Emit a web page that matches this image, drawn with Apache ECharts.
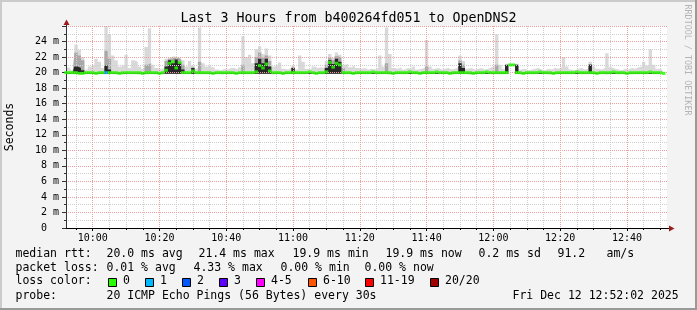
<!DOCTYPE html>
<html><head><meta charset="utf-8">
<script src="https://cdn.jsdelivr.net/npm/echarts@6/dist/echarts.min.js"></script>
<style>html,body{margin:0;padding:0;background:#f3f3f3;}#c{width:697px;height:310px;}</style>
</head><body><div id="c"></div>
<script>
// ---- data ----
const startHour = 9, startMinute = 52, spanMinutes = 180;
const tickLabels = ['10:00','10:20','10:40','11:00','11:20','11:40','12:00','12:20','12:40'];
const titleText = 'Last 3 Hours from b400264fd051 to OpenDNS2';

// median RTT per minute (ms)
const median = [
 20.0,20.0,20.0,20.0,19.9,19.9,20.0,20.0,20.0,19.9,
 20.0,20.0,20.0,20.0,20.0,20.0,19.9,20.0,20.0,20.0,
 20.0,20.0,20.0,19.9,20.0,20.0,20.0,20.0,19.9,20.0,
 20.3,21.2,21.4,20.6,21.3,20.0,20.0,20.0,20.2,20.0,
 20.0,20.0,20.0,20.0,19.9,20.0,20.0,20.0,20.0,20.0,
 20.0,19.9,20.0,20.0,20.0,20.0,20.0,20.1,20.9,20.6,
 21.1,20.2,20.0,20.0,20.0,19.9,20.0,20.0,20.0,20.0,
 20.0,20.0,20.0,20.1,20.0,19.9,20.0,20.0,20.1,21.3,
 20.7,21.2,21.0,20.0,20.0,20.0,19.9,20.0,20.0,20.0,
 20.0,20.0,20.1,20.0,20.0,20.0,20.0,20.0,19.9,20.0,
 20.0,20.0,20.0,20.1,20.0,20.0,19.9,20.0,20.0,20.0,
 20.0,20.1,20.0,20.0,20.0,19.9,20.0,20.0,20.0,20.0,
 20.0,20.0,19.9,20.0,20.0,20.0,20.1,20.0,20.0,20.0,
 20.0,20.0,20.0,21.0,21.0,20.0,20.0,19.9,20.0,20.0,
 20.0,20.0,20.1,20.0,20.0,20.0,19.9,20.0,20.0,20.0,
 20.0,20.0,20.0,20.1,20.0,20.0,20.0,20.0,20.0,19.9,
 20.0,20.0,20.0,20.0,20.1,20.0,20.0,20.0,19.9,20.0,
 20.0,20.0,20.0,20.0,20.0,20.1,20.0,20.0,20.0,19.9
];
// lost pings (of 20) per minute
const loss = [
 0,0,0,0,0,0,0,0,0,0, 0,0,1,0,0,0,0,0,0,0, 0,0,0,0,0,0,0,0,0,0,
 0,0,0,0,0,0,0,0,0,0, 0,0,0,0,0,0,0,0,0,0, 0,0,0,0,0,0,0,0,0,0,
 0,0,0,0,0,0,0,0,0,0, 0,0,0,0,0,0,0,0,0,0, 0,0,0,0,0,0,0,0,0,0,
 0,0,0,0,0,0,0,0,0,0, 0,0,0,0,0,0,0,0,0,0, 0,0,0,0,0,0,0,0,0,0,
 0,0,0,0,0,0,0,0,0,0, 0,0,0,0,0,0,0,0,0,0, 0,0,0,0,0,0,0,0,0,0,
 0,0,0,0,0,0,0,0,0,0, 0,0,0,0,0,0,0,0,0,0, 0,0,0,0,0,0,0,0,0,0
];
// smoke: lowest ping, and top of outer (light), middle and inner (dark) bands (ms)
const smokeLo = [
 19.85,19.85,19.85,19.85,19.85,19.85,19.85,19.85,19.85,19.85,
 19.85,19.85,19.85,19.85,19.85,19.85,19.85,19.85,19.85,19.85,
 19.85,19.85,19.85,19.85,19.85,19.85,19.85,19.85,19.85,19.85,
 19.85,19.85,19.85,19.85,19.85,19.85,19.85,19.85,19.85,19.85,
 19.85,19.85,19.85,19.85,19.85,19.85,19.85,19.85,19.85,19.85,
 19.85,19.85,19.85,19.85,19.85,19.85,19.85,19.85,19.85,19.85,
 19.85,19.85,19.85,19.85,19.85,19.85,19.85,19.85,19.85,19.85,
 19.85,19.85,19.85,19.85,19.85,19.85,19.85,19.85,19.85,19.85,
 19.85,19.85,19.85,19.85,19.85,19.85,19.85,19.85,19.85,19.85,
 19.85,19.85,19.85,19.85,19.85,19.85,19.85,19.85,19.85,19.85,
 19.85,19.85,19.85,19.85,19.85,19.85,19.85,19.85,19.85,19.85,
 19.85,19.85,19.85,19.85,19.85,19.85,19.85,19.85,19.85,19.85,
 19.85,19.85,19.85,19.85,19.85,19.85,19.85,19.85,19.85,19.85,
 19.85,19.85,19.85,20.9,20.9,19.85,19.85,19.85,19.85,19.85,
 19.85,19.85,19.85,19.85,19.85,19.85,19.85,19.85,19.85,19.85,
 19.85,19.85,19.85,19.85,19.85,19.85,19.85,19.85,19.85,19.85,
 19.85,19.85,19.85,19.85,19.85,19.85,19.85,19.85,19.85,19.85,
 19.85,19.85,19.85,19.85,19.85,19.85,19.85,19.85,19.85,19.85
];
const smokeHi = [
 20.6,20.7,20.3,23.6,22.9,22.0,20.4,20.8,21.0,21.8,
 21.4,20.6,26.0,24.9,22.2,21.6,20.8,21.0,22.3,20.6,
 21.6,21.4,20.8,20.5,23.3,25.7,21.0,20.6,20.4,20.6,
 21.8,22.0,22.1,21.9,22.0,21.6,20.8,21.5,20.9,20.5,
 25.8,21.2,20.8,21.0,20.7,20.4,20.3,20.5,20.4,20.6,
 20.6,20.4,20.7,24.7,22.0,22.3,21.2,23.0,23.4,22.4,
 23.1,22.2,20.8,21.0,21.3,20.5,20.4,20.6,20.9,20.4,
 22.2,21.4,20.5,20.4,20.8,20.6,20.7,20.6,21.5,22.4,
 21.9,22.6,22.3,21.0,21.1,20.7,20.9,20.6,20.5,20.6,
 20.4,20.5,20.4,20.6,22.2,20.8,25.8,22.4,20.6,20.5,
 20.7,20.4,20.6,20.5,20.8,20.4,20.5,20.6,24.2,20.8,
 20.5,20.6,20.4,20.5,20.6,20.4,20.5,20.7,22.2,21.5,
 20.5,20.6,20.4,20.5,20.6,20.4,20.5,20.7,20.8,24.9,
 21.0,20.5,21.0,21.1,21.1,21.0,20.4,20.5,20.3,20.4,
 20.5,20.6,20.4,20.3,20.5,20.4,20.6,20.5,20.7,22.0,
 20.8,20.4,20.3,20.5,20.6,20.4,20.5,21.4,20.8,20.5,
 20.4,20.6,22.5,20.7,20.5,20.4,20.3,20.5,20.4,20.6,
 20.5,20.7,20.8,21.4,20.9,23.0,21.0,20.5,20.4,20.3
];
const smokeMid = [
 20.0,20.0,20.0,22.6,22.2,21.6,20.0,20.0,20.0,20.0,
 20.0,20.0,22.8,21.8,20.0,20.0,20.0,20.0,20.0,20.0,
 20.0,20.0,20.0,20.0,21.0,21.2,20.0,20.0,20.0,20.0,
 21.5,21.8,21.9,21.9,21.7,21.0,20.0,20.0,20.7,20.0,
 21.4,20.0,20.0,20.0,20.0,20.0,20.0,20.0,20.0,20.0,
 20.0,20.0,20.0,21.0,20.0,20.0,20.0,22.0,22.6,21.9,
 22.2,21.5,20.0,20.0,20.0,20.0,20.0,20.0,20.7,20.0,
 20.0,20.0,20.0,20.0,20.0,20.0,20.0,20.0,21.0,21.9,
 21.6,22.1,21.9,20.6,20.0,20.0,20.0,20.0,20.0,20.0,
 20.0,20.0,20.0,20.0,20.0,20.0,21.2,20.0,20.0,20.0,
 20.0,20.0,20.0,20.0,20.0,20.0,20.0,20.0,20.8,20.0,
 20.0,20.0,20.0,20.0,20.0,20.0,20.0,20.0,21.6,21.0,
 20.0,20.0,20.0,20.0,20.0,20.0,20.0,20.0,20.0,21.0,
 20.0,20.0,21.0,21.05,21.05,21.0,20.0,20.0,20.0,20.0,
 20.0,20.0,20.0,20.0,20.0,20.0,20.0,20.0,20.0,20.0,
 20.0,20.0,20.0,20.0,20.0,20.0,20.0,21.1,20.0,20.0,
 20.0,20.0,20.0,20.0,20.0,20.0,20.0,20.0,20.0,20.0,
 20.0,20.0,20.0,20.0,20.0,20.0,20.0,20.0,20.0,20.0
];
const smokeDark = [
 20.0,20.0,20.0,20.8,20.6,20.3,20.0,20.0,20.0,20.0,
 20.0,20.0,20.9,20.4,20.0,20.0,20.0,20.0,20.0,20.0,
 20.0,20.0,20.0,20.0,20.0,20.0,20.0,20.0,20.0,20.0,
 20.8,21.6,21.2,21.7,21.3,20.4,20.0,20.0,20.6,20.0,
 20.0,20.0,20.0,20.0,20.0,20.0,20.0,20.0,20.0,20.0,
 20.0,20.0,20.0,20.0,20.0,20.0,20.0,21.2,21.8,21.2,
 21.8,20.8,20.0,20.0,20.0,20.0,20.0,20.0,20.6,20.0,
 20.0,20.0,20.0,20.0,20.0,20.0,20.0,20.0,20.6,21.6,
 21.1,21.8,21.4,20.0,20.0,20.0,20.0,20.0,20.0,20.0,
 20.0,20.0,20.0,20.0,20.0,20.0,20.0,20.0,20.0,20.0,
 20.0,20.0,20.0,20.0,20.0,20.0,20.0,20.0,20.0,20.0,
 20.0,20.0,20.0,20.0,20.0,20.0,20.0,20.0,21.2,20.6,
 20.0,20.0,20.0,20.0,20.0,20.0,20.0,20.0,20.0,20.0,
 20.0,20.0,21.0,21.0,21.0,21.0,20.0,20.0,20.0,20.0,
 20.0,20.0,20.0,20.0,20.0,20.0,20.0,20.0,20.0,20.0,
 20.0,20.0,20.0,20.0,20.0,20.0,20.0,21.0,20.0,20.0,
 20.0,20.0,20.0,20.0,20.0,20.0,20.0,20.0,20.0,20.0,
 20.0,20.0,20.0,20.0,20.0,20.0,20.0,20.0,20.0,20.0
];
const lossLabels = ['0','1','2','3','4-5','6-10','11-19','20/20'];
const lossColors = ['#26ff00','#00b8ff','#0059ff','#5e00ff','#ff00ff','#ff5500','#ff0000','#a10000'];
const rttStats = ['20.0 ms avg','21.4 ms max','19.9 ms min','19.9 ms now','0.2 ms sd','91.2','am/s'];
const lossStats = ['0.01 % avg','4.33 % max','0.00 % min','0.00 % now'];
const probeText = '20 ICMP Echo Pings (56 Bytes) every 30s';
const dateText = 'Fri Dec 12 12:52:02 2025';

// ---- build ----
const pad = n => (n < 10 ? '0' : '') + n;
const times = [];
for (let i = 0; i <= spanMinutes; i++) {
  const t = startHour * 60 + startMinute + i;
  times.push(pad(Math.floor(t / 60)) + ':' + pad(t % 60));
}
const isMajor = (idx, v) => tickLabels.indexOf(v) >= 0;
const isMinor = (idx, v) => (+v.slice(3)) % 5 === 0 && tickLabels.indexOf(v) < 0;
const lossLevel = n => n <= 3 ? n : n <= 5 ? 4 : n <= 10 ? 5 : n <= 19 ? 6 : 7;

const MONO = '"DejaVu Sans Mono", monospace';
function band(name, top, color, z) {
  return [
    {type:'line', name:name+'Base', data:smokeLo, stack:name, step:'middle', symbol:'none', showSymbol:false,
     lineStyle:{width:0, opacity:0}, silent:true, z:z, xAxisIndex:0},
    {type:'line', name:name, data:top.map((v,i)=>+(v - smokeLo[i]).toFixed(3)), stack:name, step:'middle',
     symbol:'none', showSymbol:false, lineStyle:{width:0, opacity:0}, areaStyle:{color:color, opacity:1}, silent:true, z:z, xAxisIndex:0}
  ];
}
const series = [].concat(
  band('smokeHi', smokeHi, '#d9d9d9', 2),
  band('smokeMid', smokeMid, '#a8a8a8', 3),
  band('smokeDark', smokeDark, '#262626', 4),
  [{type:'scatter', name:'median', data:median, symbol:'rect', symbolSize:[3.6,3], z:6, silent:true,
    itemStyle:{color: p => lossColors[lossLevel(loss[p.dataIndex])]}}]
);

function txt(t, x, y, extra) {
  return Object.assign({type:'text', x:x, y:y, z:100, silent:true,
    style:Object.assign({text:t, font:'11.5px ' + MONO, fill:'#000',
      align:'left', verticalAlign:'middle', textAlign:'left', textVerticalAlign:'middle'}, (extra && extra.style) || {})},
    extra ? {rotation: extra.rotation || 0} : {});
}
const graphics = [
  {type:'rect', shape:{x:0,y:0,width:697,height:2}, style:{fill:'#cbcbcb'}, z:100, silent:true},
  {type:'rect', shape:{x:0,y:0,width:2,height:310}, style:{fill:'#cbcbcb'}, z:100, silent:true},
  {type:'rect', shape:{x:0,y:308,width:697,height:2}, style:{fill:'#999999'}, z:100, silent:true},
  {type:'rect', shape:{x:695,y:0,width:2,height:310}, style:{fill:'#999999'}, z:100, silent:true},
  // axis arrows
  {type:'line', shape:{x1:66.5,y1:26,x2:66.5,y2:22}, style:{stroke:'#333', lineWidth:1}, z:100, silent:true},
  {type:'polygon', shape:{points:[[66.5,19.5],[63.5,25],[69.5,25]]}, style:{fill:'#9b1c1c'}, z:101, silent:true},
  {type:'line', shape:{x1:667,y1:228.5,x2:669,y2:228.5}, style:{stroke:'#000', lineWidth:1}, z:100, silent:true},
  {type:'polygon', shape:{points:[[674.5,228.5],[669,225.5],[669,231.5]]}, style:{fill:'#9b1c1c'}, z:101, silent:true},
  txt('Seconds', 10.5, 127, {rotation:Math.PI/2, style:{align:'center', textAlign:'center', font:'11.5px ' + MONO}}),
  txt('RRDTOOL / TOBI OETIKER', 687.5, 60, {rotation:-Math.PI/2, style:{align:'center', textAlign:'center', font:'8.4px ' + MONO, fill:'#b4b4b4'}}),
  txt(titleText, 348.5, 19, {style:{align:'center', textAlign:'center', font:'13.3px ' + MONO}}),
  txt('median rtt:', 15.5, 254),
  txt('packet loss:', 15.5, 268),
  txt('loss color:', 15.5, 281.5),
  txt('probe:', 15.5, 296),
  txt(probeText, 106.5, 296),
  txt(dateText, 512.5, 296)
];
const rttX = [106.5, 198.5, 292.5, 385.5, 478.5, 557.5, 606.5];
rttStats.forEach((s, i) => graphics.push(txt(s, rttX[i], 254)));
const lossX = [106.5, 193.5, 280.5, 364.5];
lossStats.forEach((s, i) => graphics.push(txt(s, lossX[i], 268)));
const boxX = [108.5, 145.5, 182.5, 219.5, 256.5, 308.5, 365.5, 430.5];
lossLabels.forEach((s, i) => {
  graphics.push({type:'rect', shape:{x:boxX[i], y:278.5, width:8, height:8},
    style:{fill:lossColors[i], stroke:'#000', lineWidth:1}, z:100, silent:true});
  graphics.push(txt(s, boxX[i] + 14.5, 281.5));
});

const option = {
  animation:false,
  backgroundColor:'#f3f3f3',
  grid:{left:66, right:30, top:26, bottom:82, show:true, backgroundColor:'#ffffff', borderWidth:0, containLabel:false},
  xAxis:[
    {type:'category', data:times, boundaryGap:false, position:'bottom', z:5,
     axisLine:{show:true, lineStyle:{color:'#000', width:1}},
     axisTick:{show:true, interval:isMajor, length:3, lineStyle:{color:'#000'}},
     axisLabel:{show:true, interval:isMajor, margin:5, fontFamily:MONO, fontSize:10, color:'#000'},
     splitLine:{show:true, interval:isMajor, lineStyle:{color:'#eba0a0', type:[1,1], width:1}}},
    {type:'category', data:times, boundaryGap:false, position:'bottom', z:4,
     axisLine:{show:false},
     axisTick:{show:true, interval:isMinor, length:2, lineStyle:{color:'#000'}},
     axisLabel:{show:false},
     splitLine:{show:true, interval:isMinor, lineStyle:{color:'#cfcfcf', type:[1,1], width:1}}}
  ],
  yAxis:{type:'value', min:0, max:26, interval:2, z:5,
    axisLine:{show:true, lineStyle:{color:'#333', width:1}},
    axisTick:{show:true, length:4, lineStyle:{color:'#333'}},
    minorTick:{show:true, splitNumber:2, length:2, lineStyle:{color:'#333'}},
    axisLabel:{margin:7, fontFamily:MONO, fontSize:10, color:'#000',
      formatter: v => v === 26 ? '' : (v === 0 ? '0  ' : v + ' m')},
    splitLine:{show:true, lineStyle:{color:'#eba0a0', type:[1,1], width:1}},
    minorSplitLine:{show:true, lineStyle:{color:'#cfcfcf', type:[1,1], width:1}}},
  series: series,
  graphic: graphics
};
const chart = echarts.init(document.getElementById('c'), null, {renderer:'canvas'});
chart.setOption(option);
</script>
</body></html>
